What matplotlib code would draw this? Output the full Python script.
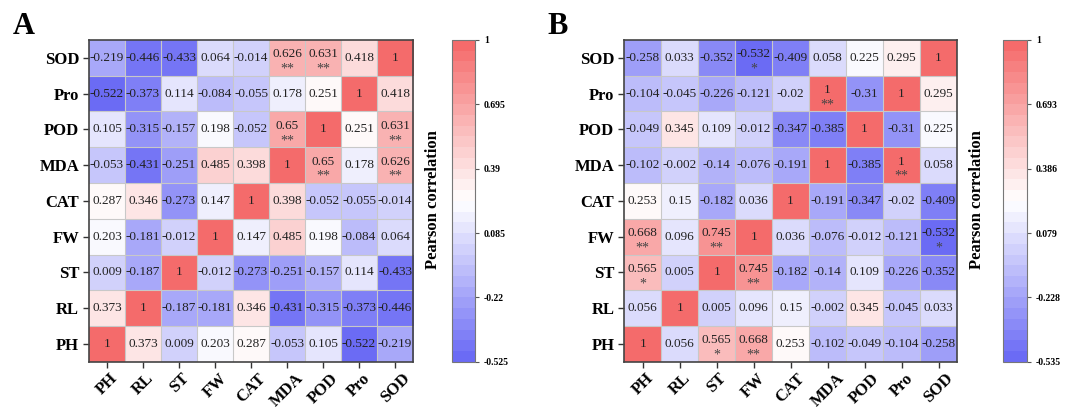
import numpy as np
import matplotlib.pyplot as plt
from matplotlib.colors import LinearSegmentedColormap

plt.rcParams['font.family'] = ['Liberation Serif', 'DejaVu Serif']

labels = ["PH", "RL", "ST", "FW", "CAT", "MDA", "POD", "Pro", "SOD"]

# rows in label order (PH first, drawn at bottom)
corr_a = [
    [1, 0.373, 0.009, 0.203, 0.287, -0.053, 0.105, -0.522, -0.219],
    [0.373, 1, -0.187, -0.181, 0.346, -0.431, -0.315, -0.373, -0.446],
    [0.009, -0.187, 1, -0.012, -0.273, -0.251, -0.157, 0.114, -0.433],
    [0.203, -0.181, -0.012, 1, 0.147, 0.485, 0.198, -0.084, 0.064],
    [0.287, 0.346, -0.273, 0.147, 1, 0.398, -0.052, -0.055, -0.014],
    [-0.053, -0.431, -0.251, 0.485, 0.398, 1, 0.65, 0.178, 0.626],
    [0.105, -0.315, -0.157, 0.198, -0.052, 0.65, 1, 0.251, 0.631],
    [-0.522, -0.373, 0.114, -0.084, -0.055, 0.178, 0.251, 1, 0.418],
    [-0.219, -0.446, -0.433, 0.064, -0.014, 0.626, 0.631, 0.418, 1],
]
sig_a = {("MDA", "POD"): "**", ("MDA", "SOD"): "**", ("POD", "SOD"): "**"}
ticks_a = [-0.525, -0.22, 0.085, 0.39, 0.695, 1]

corr_b = [
    [1, 0.056, 0.565, 0.668, 0.253, -0.102, -0.049, -0.104, -0.258],
    [0.056, 1, 0.005, 0.096, 0.15, -0.002, 0.345, -0.045, 0.033],
    [0.565, 0.005, 1, 0.745, -0.182, -0.14, 0.109, -0.226, -0.352],
    [0.668, 0.096, 0.745, 1, 0.036, -0.076, -0.012, -0.121, -0.532],
    [0.253, 0.15, -0.182, 0.036, 1, -0.191, -0.347, -0.02, -0.409],
    [-0.102, -0.002, -0.14, -0.076, -0.191, 1, -0.385, 1, 0.058],
    [-0.049, 0.345, 0.109, -0.012, -0.347, -0.385, 1, -0.31, 0.225],
    [-0.104, -0.045, -0.226, -0.121, -0.02, 1, -0.31, 1, 0.295],
    [-0.258, 0.033, -0.352, -0.532, -0.409, 0.058, 0.225, 0.295, 1],
]
sig_b = {("PH", "ST"): "*", ("PH", "FW"): "**", ("ST", "FW"): "**",
         ("FW", "SOD"): "*", ("MDA", "Pro"): "**"}
ticks_b = [-0.535, -0.228, 0.079, 0.386, 0.693, 1]

cmap = LinearSegmentedColormap.from_list(
    "bwr_soft", [(0.42, 0.42, 0.96), (1, 1, 1), (0.96, 0.42, 0.42)], N=30)


def fmt(v):
    if v == 1:
        return "1"
    return ("%.3f" % v).rstrip("0").rstrip(".")


def panel(fig, rect, cbar_rect, lab_x, corr, sig, ticks, letter, letter_x):
    m = np.array(corr)
    n = len(labels)
    ax = fig.add_axes(rect)
    im = ax.imshow(m, cmap=cmap, vmin=ticks[0], vmax=ticks[-1],
                   origin="lower", aspect="auto")
    for k in np.arange(0.5, n - 1, 1):
        ax.axhline(k, color="#c8c8c8", lw=0.8)
        ax.axvline(k, color="#c8c8c8", lw=0.8)
    for i in range(n):
        for j in range(n):
            s = sig.get((labels[i], labels[j])) or sig.get((labels[j], labels[i]))
            if s:
                ax.text(j, i + 0.1, fmt(m[i, j]), ha="center", va="center",
                        fontsize=9.5, color="#222222")
                ax.text(j, i - 0.32, s, ha="center", va="center",
                        fontsize=10, color="#444444")
            else:
                ax.text(j, i, fmt(m[i, j]), ha="center", va="center",
                        fontsize=9.5, color="#222222")
    ax.set_xticks(range(n))
    ax.set_yticks(range(n))
    ax.set_xticklabels(labels, rotation=45, ha="center", fontsize=12,
                       fontweight="bold")
    ax.set_yticklabels(labels, fontsize=12, fontweight="bold")
    ax.tick_params(length=4, width=1, color="#333333", pad=3)
    ax.tick_params(axis="x", pad=2)
    for sp in ax.spines.values():
        sp.set_color("#444444")
        sp.set_linewidth(1.2)

    cax = fig.add_axes(cbar_rect)
    cb = fig.colorbar(im, cax=cax, ticks=ticks)
    cb.ax.set_yticklabels([str(t) for t in ticks], fontsize=7, fontweight="bold")
    cb.ax.tick_params(length=3, width=0.8, color="#555555")
    cb.outline.set_edgecolor("#777777")
    cb.outline.set_linewidth(0.8)
    fig.text(lab_x, 0.5 + 0.01, "Pearson correlation", rotation=90,
             ha="center", va="center", fontsize=12, fontweight="bold")
    fig.text(letter_x, 0.935, letter, ha="left", va="center",
             fontsize=22, fontweight="bold")


fig = plt.figure(figsize=(10.67, 4.07), dpi=100)
panel(fig, [0.0834, 0.111, 0.3037, 0.791], [0.4236, 0.111, 0.0216, 0.791],
      0.406, corr_a, sig_a, ticks_a, "A", 0.012)
panel(fig, [0.585, 0.111, 0.312, 0.791], [0.940, 0.111, 0.0225, 0.791],
      0.916, corr_b, sig_b, ticks_b, "B", 0.513)
fig.savefig("out.png", dpi=100)
